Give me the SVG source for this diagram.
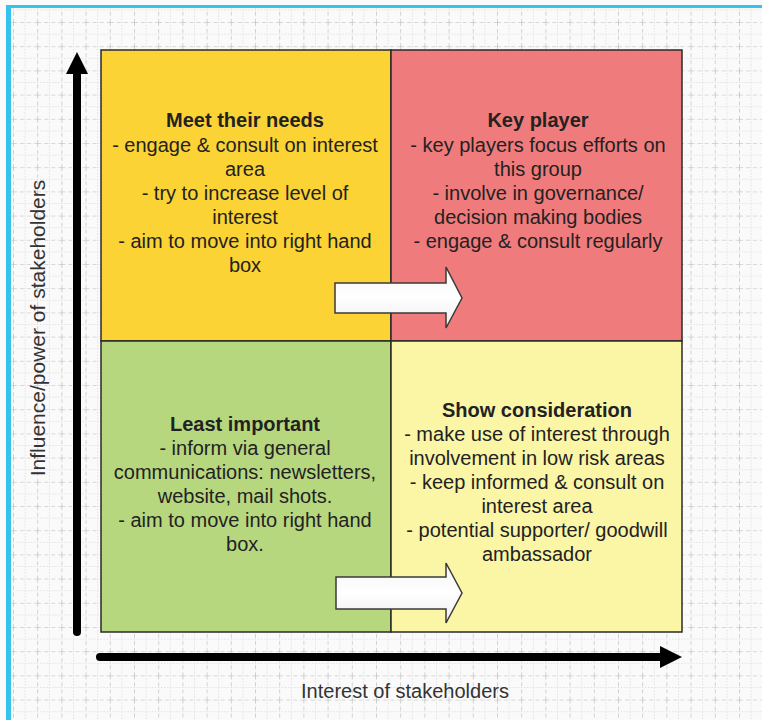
<svg xmlns="http://www.w3.org/2000/svg" width="762" height="720" viewBox="0 0 762 720">
<style>
.q{stroke:#2a2a2a;stroke-width:1.5}
.t{font-family:"Liberation Sans",Arial,sans-serif;font-size:20px;fill:#222;text-anchor:middle}
.b{font-weight:bold}
.ax{font-family:"Liberation Sans",Arial,sans-serif;font-size:20px;fill:#333;text-anchor:middle}
.blk{fill:url(#wg);stroke:#3a3a3a;stroke-width:1.5;stroke-linejoin:miter}
.axl{stroke:#000;stroke-width:8;stroke-linecap:round;fill:none}
</style>
<defs>
<pattern id="grid" patternUnits="userSpaceOnUse" x="13" y="22" width="24.2" height="24.2">
<path d="M0 12.1H24.2M12.1 0V24.2" stroke="#d6d6d6" stroke-width="1" stroke-dasharray="1 2" fill="none"/>
<path d="M0 0H24.2M0 0V24.2" stroke="#b4b4b4" stroke-width="1.2" stroke-dasharray="4 3" fill="none"/>
</pattern>
<linearGradient id="wg" x1="0" y1="0" x2="0" y2="1">
<stop offset="0" stop-color="#f4f4f4"/>
<stop offset="0.5" stop-color="#ffffff"/>
<stop offset="1" stop-color="#ececec"/>
</linearGradient>
</defs>
<rect x="0" y="0" width="762" height="720" fill="#fafafa"/>
<rect x="11" y="8" width="751" height="712" fill="url(#grid)"/>
<rect x="6" y="5" width="756" height="3" fill="#35c3ee"/>
<rect x="6" y="5" width="5" height="715" fill="#35c3ee"/>

<g id="meet-their-needs">
<rect class="q" x="101" y="50" width="290" height="291" fill="#fcd335"/>
<text class="t b" x="245" y="127">Meet their needs</text>
<text class="t" x="245" y="152">- engage &amp; consult on interest</text>
<text class="t" x="245" y="176">area</text>
<text class="t" x="245" y="200">- try to increase level of</text>
<text class="t" x="245" y="224">interest</text>
<text class="t" x="245" y="248">- aim to move into right hand</text>
<text class="t" x="245" y="272">box</text>
</g>

<g id="key-player">
<rect class="q" x="391" y="50" width="291" height="291" fill="#f07b7c"/>
<text class="t b" x="538" y="127">Key player</text>
<text class="t" x="538" y="152">- key players focus efforts on</text>
<text class="t" x="538" y="176">this group</text>
<text class="t" x="538" y="200">- involve in governance/</text>
<text class="t" x="538" y="224">decision making bodies</text>
<text class="t" x="538" y="248">- engage &amp; consult regularly</text>
</g>

<g id="least-important">
<rect class="q" x="101" y="341" width="290" height="291" fill="#b7d77f"/>
<text class="t b" x="245" y="431">Least important</text>
<text class="t" x="245" y="455">- inform via general</text>
<text class="t" x="245" y="479">communications: newsletters,</text>
<text class="t" x="245" y="503">website, mail shots.</text>
<text class="t" x="245" y="527">- aim to move into right hand</text>
<text class="t" x="245" y="551">box.</text>
</g>

<g id="show-consideration">
<rect class="q" x="391" y="341" width="291" height="291" fill="#fbf5a6"/>
<text class="t b" x="537" y="417">Show consideration</text>
<text class="t" x="537" y="441">- make use of interest through</text>
<text class="t" x="537" y="465">involvement in low risk areas</text>
<text class="t" x="537" y="489">- keep informed &amp; consult on</text>
<text class="t" x="537" y="513">interest area</text>
<text class="t" x="537" y="537">- potential supporter/ goodwill</text>
<text class="t" x="537" y="561">ambassador</text>
</g>

<g id="connectors">
<path class="blk" d="M335 283H446V267L462 298L446 328V313H335Z"/>
<path class="blk" d="M336 577H446V563L462 593L446 623V609H336Z"/>
<line class="axl" x1="77" y1="632" x2="77" y2="72"/>
<path d="M66 74L77 52L88 74Z" fill="#000"/>
<line class="axl" x1="100" y1="657" x2="662" y2="657"/>
<path d="M660 646L682 657L660 668Z" fill="#000"/>
</g>

<text class="ax" x="405" y="698">Interest of stakeholders</text>
<text class="ax" transform="translate(45 328) rotate(-90)" style="font-size:21px">Influence/power of stakeholders</text>
</svg>
